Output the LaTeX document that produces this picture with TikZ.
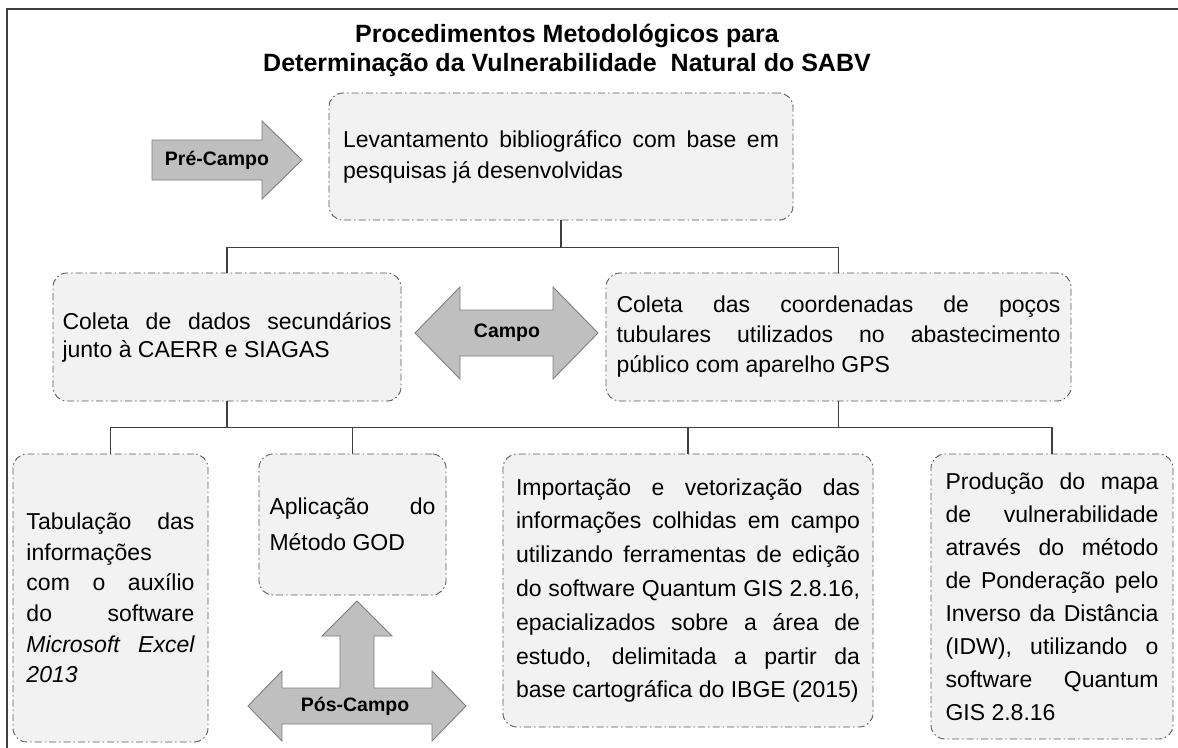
\documentclass[tikz,border=0pt]{standalone}
\usepackage{fontspec}
\setmainfont{Liberation Sans}
\definecolor{boxfill}{HTML}{F2F2F2}
\definecolor{boxline}{HTML}{595959}
\definecolor{arrowfill}{HTML}{BFBFBF}
\definecolor{arrowline}{HTML}{7F7F7F}
\definecolor{linkline}{HTML}{404040}
\tikzset{
  stage/.style={draw=boxline, fill=boxfill, line width=0.9pt, rounded corners=14pt,
    dash pattern=on 7pt off 3pt on 1.5pt off 3pt, align=justify, inner ysep=0pt,
    execute at begin node={\spaceskip=6.4pt plus 1fil\parfillskip=0pt plus 1fill}},
  link/.style={draw=linkline, line width=1.1pt},
  frame/.style={draw=linkline, line width=1.3pt},
  blockarrow/.style={fill=arrowfill, draw=arrowline, line width=0.9pt},
  phase/.style={font=\fontsize{19.5}{23}\selectfont\bfseries},
}
\begin{document}
\begin{tikzpicture}[x=1pt,y=-1pt]
\useasboundingbox (0,0) rectangle (1178,747);
\draw[frame] (7,752) -- (7,9) -- (1183,9);

% title
\node (title) at (567,50) [align=center, font=\fontsize{25}{29}\selectfont\bfseries] {Procedimentos Metodológicos para\\Determinação da Vulnerabilidade\ \ Natural do SABV};

% pre-campo
\filldraw[blockarrow] (152,140) -- (262,140) -- (262,121) -- (302,160) -- (262,199) -- (262,180) -- (152,180) -- cycle;
\node (pre) at (217,160) [phase] {Pré-Campo};
\node (lev) at (561,156.5) [stage, text width=436pt, inner xsep=14pt, minimum height=127pt, font=\fontsize{23}{31}\selectfont] {Levantamento bibliográfico com base em\linebreak pesquisas já desenvolvidas};

% campo
\node (coleta) at (227,337) [stage, text width=329pt, inner xsep=9.5pt, minimum height=128pt, font=\fontsize{23}{28}\selectfont] {Coleta de dados secundários\linebreak junto à CAERR e SIAGAS};
\node (coord) at (838.5,337) [stage, text width=444pt, inner xsep=10.5pt, minimum height=128pt, font=\fontsize{23}{30}\selectfont] {Coleta das coordenadas de poços\linebreak tubulares utilizados no abastecimento\linebreak público com aparelho GPS};
\filldraw[blockarrow] (415,333) -- (460,287) -- (460,310) -- (553,310) -- (553,287) -- (598,333) -- (553,379) -- (553,356) -- (460,356) -- (460,379) -- cycle;
\node (campo) at (507,333) [phase] {Campo};

% pos-campo
\node (tab) at (110.5,598) [stage, text width=168pt, inner xsep=13.5pt, minimum height=288pt, font=\fontsize{23}{30.6}\selectfont] {Tabulação das\linebreak informações\newline com o auxílio\linebreak do software\linebreak \textit{Microsoft Excel\linebreak 2013}};
\node (apl) at (352.5,524.5) [stage, text width=166pt, inner xsep=10.5pt, minimum height=141pt, font=\fontsize{23}{36}\selectfont] {Aplicação do\linebreak Método GOD};
\node (imp) at (688,590.5) [stage, text width=344pt, inner xsep=13pt, minimum height=273pt, font=\fontsize{23}{33.8}\selectfont] {Importação e vetorização das\linebreak informações colhidas em campo\linebreak utilizando ferramentas de edição\linebreak do software Quantum GIS 2.8.16,\linebreak epacializados sobre a área de\linebreak estudo, delimitada a partir da\linebreak base cartográfica do IBGE (2015)};
\node (prod) at (1052,596.5) [stage, text width=213pt, inner xsep=14.5pt, minimum height=285pt, font=\fontsize{23}{33}\selectfont] {Produção do mapa\linebreak de vulnerabilidade\linebreak através do método\linebreak de Ponderação pelo\linebreak Inverso da Distância\linebreak (IDW), utilizando o\linebreak software Quantum\linebreak GIS 2.8.16};
\filldraw[blockarrow] (248,706) -- (282,671) -- (282,688) -- (340,688) -- (340,636) -- (322,636) -- (357,601) -- (392,636) -- (374,636) -- (374,688) -- (432,688) -- (432,671) -- (466,706) -- (432,741) -- (432,724) -- (282,724) -- (282,741) -- cycle;
\node (pos) at (355,706) [phase] {Pós-Campo};

% links
\draw[link] (lev.south) -- ++(0,27) coordinate (busA);
\draw[link] (busA) -| (coleta.north);
\draw[link] (busA) -| (coord.north);
\draw[link] (coleta.south) -- ++(0,26) coordinate (busB);
\draw[link] (coord.south) -- ++(0,26) coordinate (busC);
\draw[link] (busB) -- (busC);
\draw[link] (busB) -| (tab.north);
\draw[link] (busB) -| (apl.north);
\draw[link] (busC) -| (imp.north);
\draw[link] (busC) -| (prod.north);
\end{tikzpicture}
\end{document}
